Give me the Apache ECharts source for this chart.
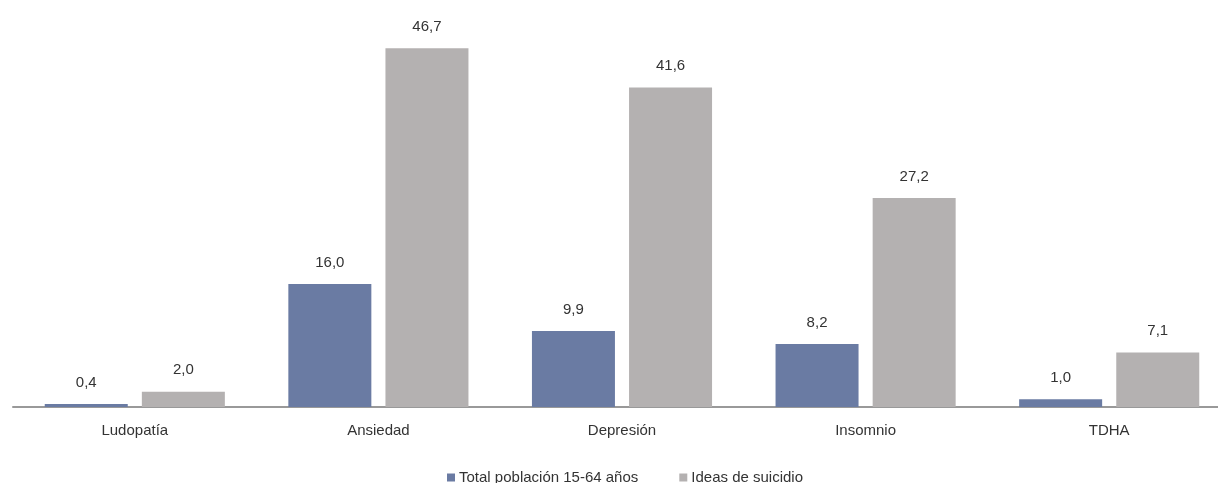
<!DOCTYPE html>
<html><head><meta charset="utf-8">
<script src="https://cdn.jsdelivr.net/npm/echarts@6/dist/echarts.min.js"></script>
<style>html,body{margin:0;padding:0;background:#fff}#c{width:1218px;height:483px}</style>
</head><body><div id="c"></div>
<script>
var categories = ['Ludopatía', 'Ansiedad', 'Depresión', 'Insomnio', 'TDHA'];
var seriesNames = ['Total población 15-64 años', 'Ideas de suicidio'];
var totalPoblacion = [0.4, 16.0, 9.9, 8.2, 1.0];
var ideasSuicidio = [2.0, 46.7, 41.6, 27.2, 7.1];

var font = '"Liberation Sans", Arial, sans-serif';
var fmt = function (p) { return p.value.toFixed(1).replace('.', ','); };
var chart = echarts.init(document.getElementById('c'));
chart.setOption({
  animation: false,
  textStyle: { fontFamily: font },
  grid: { left: 13, top: 23, right: -13, bottom: 76, outerBoundsMode: 'none', containLabel: false },
  legend: {
    top: 465, left: 442, itemWidth: 8, itemHeight: 8, itemGap: 41,
    icon: 'rect',
    textStyle: { fontFamily: font, fontSize: 15, color: '#333', padding: [0, 0, 0, -1] },
    data: seriesNames
  },
  xAxis: {
    type: 'category', data: categories,
    axisLine: { lineStyle: { color: '#999', width: 2 } },
    axisTick: { show: false },
    axisLabel: { fontFamily: font, fontSize: 15, color: '#333', margin: 16 }
  },
  yAxis: { type: 'value', min: 0, max: 50, show: false, splitLine: { show: false } },
  series: [
    {
      name: seriesNames[0], type: 'bar', data: totalPoblacion, barWidth: 83, barGap: '17%',
      itemStyle: { color: '#6a7ba3' },
      label: { show: true, position: 'top', distance: 14, formatter: fmt, fontFamily: font, fontSize: 15, color: '#333' }
    },
    {
      name: seriesNames[1], type: 'bar', data: ideasSuicidio, barWidth: 83,
      itemStyle: { color: '#b4b1b1' },
      label: { show: true, position: 'top', distance: 14, formatter: fmt, fontFamily: font, fontSize: 15, color: '#333' }
    }
  ]
});
</script></body></html>
